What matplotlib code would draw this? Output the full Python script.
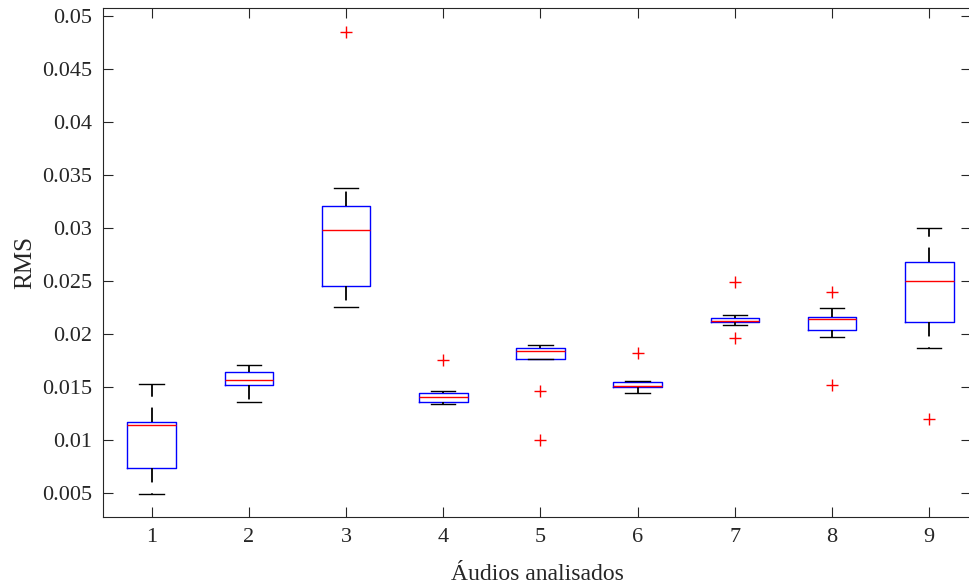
import numpy as np
import matplotlib
matplotlib.use('Agg')
import matplotlib.pyplot as plt

audios = [1, 2, 3, 4, 5, 6, 7, 8, 9]
whislo = [0.0049, 0.01356, 0.02252, 0.0134, 0.01761, 0.0144, 0.02085, 0.01975, 0.01865]
q1 = [0.00733, 0.01516, 0.02453, 0.01356, 0.01761, 0.01497, 0.0211, 0.02035, 0.0211]
med = [0.0114, 0.01565, 0.02981, 0.01403, 0.01842, 0.01506, 0.02125, 0.02142, 0.025]
q3 = [0.0117, 0.01645, 0.03205, 0.0144, 0.01871, 0.01547, 0.02154, 0.02163, 0.02682]
whishi = [0.01525, 0.01708, 0.0338, 0.01462, 0.01893, 0.01557, 0.02179, 0.02243, 0.03003]
outliers = [[], [], [0.0485], [0.01758], [0.01462, 0.00997], [0.01818],
            [0.02488, 0.01965], [0.0240, 0.01519], [0.0120]]

plt.rcParams['font.family'] = ['Liberation Serif', 'DejaVu Serif']

stats = []
for i in range(len(audios)):
    stats.append({'whislo': whislo[i], 'q1': q1[i], 'med': med[i], 'q3': q3[i],
                  'whishi': whishi[i], 'fliers': outliers[i], 'label': str(audios[i])})

fig = plt.figure(figsize=(9.7, 5.83), dpi=100)
# eixo cortado a direita, como na figura original
ax = fig.add_axes([103/970, 66/583, 868/970, 509/583])

ax.bxp(stats, positions=audios, widths=0.5, showfliers=True,
       boxprops=dict(color='blue', linewidth=1),
       medianprops=dict(color='red', linewidth=1),
       whiskerprops=dict(color='black', linewidth=1.3, linestyle=(0, (8, 6))),
       capprops=dict(color='black', linewidth=1),
       capwidths=0.25,
       flierprops=dict(marker='+', markeredgecolor='red', markersize=9,
                       markeredgewidth=1, linestyle='none'))

ax.set_xlim(0.5, 9.43)
ax.set_ylim(0.00274, 0.05075)
yt = [0.005, 0.01, 0.015, 0.02, 0.025, 0.03, 0.035, 0.04, 0.045, 0.05]
ax.set_yticks(yt)
ax.set_yticklabels(['0.005', '0.01', '0.015', '0.02', '0.025', '0.03', '0.035',
                    '0.04', '0.045', '0.05'])
ax.set_xticks(audios)
ax.set_xticklabels([str(a) for a in audios])

ax.tick_params(direction='in', top=True, right=True, length=7, width=0.8,
               labelsize=16, colors='#262626', pad=8)
for s in ax.spines.values():
    s.set_color('#262626')
    s.set_linewidth(0.8)

ax.set_xlabel('Áudios analisados', fontsize=17, color='#262626', labelpad=12)
ax.set_ylabel('RMS', fontsize=18, color='#262626', labelpad=4)

fig.savefig('out.png', dpi=100)
